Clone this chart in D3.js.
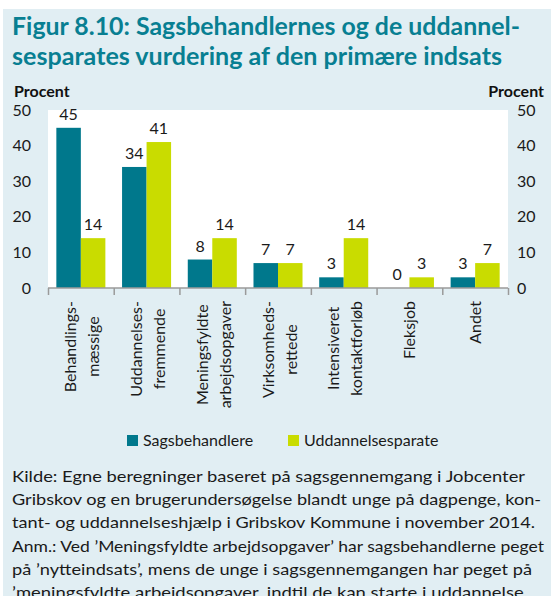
<!DOCTYPE html>
<html>
<head>
<meta charset="utf-8">
<script src="https://cdn.jsdelivr.net/npm/d3@7"></script>
<style>
  body { margin: 0; background: #ffffff; }
  text { font-family: Lato, "Open Sans", sans-serif; }
</style>
</head>
<body>
<svg id="chart"></svg>
<script>
// data
var categories = [
  ["Behandlings-", "mæssige"],
  ["Uddannelses-", "fremmende"],
  ["Meningsfyldte", "arbejdsopgaver"],
  ["Virksomheds-", "rettede"],
  ["Intensiveret", "kontaktforløb"],
  ["Fleksjob"],
  ["Andet"]
];
var sagsbehandlere = [45, 34, 8, 7, 3, 0, 3];
var uddannelsesparate = [14, 41, 14, 7, 14, 3, 7];
var seriesNames = ["Sagsbehandlere", "Uddannelsesparate"];
var yTicks = [0, 10, 20, 30, 40, 50];

var titleLines = [
  "Figur 8.10: Sagsbehandlernes og de uddannel-",
  "sesparates vurdering af den primære indsats"
];
var noteLines = [
  "Kilde: Egne beregninger baseret på sagsgennemgang i Jobcenter",
  "Gribskov og en brugerundersøgelse blandt unge på dagpenge, kon-",
  "tant- og uddannelseshjælp i Gribskov Kommune i november 2014.",
  "Anm.: Ved ’Meningsfyldte arbejdsopgaver’ har sagsbehandlerne peget",
  "på ’nytteindsats’, mens de unge i sagsgennemgangen har peget på",
  "’meningsfyldte arbejdsopgaver, indtil de kan starte i uddannelse."
];

var drawChart = function(w, h)
{
  var colors = ["#00788c", "#c9dc00"];
  var teal = "#087f92";

  var svg = d3.select("#chart")
              .attr("width", w)
              .attr("height", h);

  // light blue panel
  svg.append("rect")
     .attr("x", 3).attr("y", 9)
     .attr("width", w - 3).attr("height", h - 9)
     .attr("fill", "#e1eef3");

  // title
  var titleWidths = [508, 490];
  svg.selectAll("text.title")
     .data(titleLines)
     .enter()
     .append("text")
     .classed("title", true)
     .attr("x", 12)
     .attr("y", function(d, i) { return 35 + i * 30; })
     .attr("textLength", function(d, i) { return titleWidths[i]; })
     .attr("lengthAdjust", "spacingAndGlyphs")
     .style("font-size", "25px")
     .style("font-weight", "bold")
     .attr("fill", teal)
     .text(function(d) { return d; });

  var margins = { top: 110, left: 48, right: 43, bottom: 308 };
  var width = w - margins.left - margins.right;
  var height = h - margins.top - margins.bottom;

  var xScale = d3.scaleBand()
                 .domain(d3.range(categories.length))
                 .range([0, width])
                 .paddingInner(0.254)
                 .paddingOuter(0.127);
  // full category slots for ticks
  var slot = width / categories.length;

  var yScale = d3.scaleLinear()
                 .domain([0, 50])
                 .range([height, 0]);

  var plot = svg.append("g")
                .attr("transform", "translate(" + margins.left + "," + margins.top + ")");

  plot.append("rect")
      .attr("x", 0).attr("y", 0)
      .attr("width", width).attr("height", height)
      .attr("fill", "#ffffff");

  var bw = xScale.bandwidth() / 2;
  var series = [sagsbehandlere, uddannelsesparate];

  series.forEach(function(vals, s)
  {
    var g = plot.append("g");
    g.selectAll("rect")
     .data(vals)
     .enter()
     .append("rect")
     .attr("x", function(d, i) { return i * slot + (slot - 2 * bw) / 2 + s * bw; })
     .attr("y", function(d) { return yScale(d); })
     .attr("width", bw)
     .attr("height", function(d) { return height - yScale(d); })
     .attr("fill", colors[s]);

    g.selectAll("text")
     .data(vals)
     .enter()
     .append("text")
     .attr("x", function(d, i) { return i * slot + (slot - 2 * bw) / 2 + s * bw + bw / 2; })
     .attr("y", function(d) { return yScale(d) - 8; })
     .attr("text-anchor", "middle")
     .style("font-size", "16px")
     .attr("fill", "#1a1a1a")
     .text(function(d) { return d; });
  });

  // x axis line and ticks between categories
  var xAxis = d3.axisBottom(d3.scaleLinear().domain([0, categories.length]).range([0, width]))
                .ticks(categories.length)
                .tickSize(7)
                .tickFormat("");
  var xg = plot.append("g")
               .attr("transform", "translate(0," + height + ")")
               .call(xAxis);
  xg.select(".domain").attr("stroke", "#9a9a9a").attr("stroke-width", 1.5).attr("d", "M0,0H" + width);
  xg.selectAll(".tick line").attr("stroke", "#9a9a9a").attr("stroke-width", 1.5);

  // category labels, rotated
  var labels = plot.selectAll("g.cat")
                   .data(categories)
                   .enter()
                   .append("g")
                   .classed("cat", true)
                   .attr("transform", function(d, i)
                   {
                     return "translate(" + (i * slot + slot / 2 + (d.length > 1 ? 1.5 : 0)) + "," + (height + 13) + ") rotate(-90)";
                   });

  labels.each(function(lines)
  {
    var g = d3.select(this);
    var texts = g.selectAll("text")
                 .data(lines)
                 .enter()
                 .append("text")
                 .attr("dy", function(d, i) { return (i - (lines.length - 1) / 2) * 23 + 5.5; })
                 .attr("text-anchor", "middle")
                 .style("font-size", "16px")
                 .attr("fill", "#1a1a1a")
                 .text(function(d) { return d; });
    var maxLen = d3.max(texts.nodes(), function(n) { return n.getComputedTextLength(); });
    texts.attr("x", -maxLen / 2);
  });

  // y axes, left and right
  var yLeft = d3.axisLeft(yScale).tickValues(yTicks).tickSize(0).tickPadding(17);
  var yRight = d3.axisRight(yScale).tickValues(yTicks).tickSize(0).tickPadding(9);

  var yl = plot.append("g").call(yLeft);
  var yr = plot.append("g").attr("transform", "translate(" + width + ",0)").call(yRight);
  [yl, yr].forEach(function(a)
  {
    a.select(".domain").remove();
    a.selectAll("text")
     .style("font-size", "16px")
     .style("font-family", "Lato, sans-serif")
     .attr("fill", "#1a1a1a");
  });

  // Procent headers
  svg.append("text")
     .attr("x", 14).attr("y", 97)
     .style("font-size", "16px").style("font-weight", "bold")
     .attr("fill", "#111")
     .text("Procent");
  svg.append("text")
     .attr("x", 544).attr("y", 97)
     .attr("text-anchor", "end")
     .style("font-size", "16px").style("font-weight", "bold")
     .attr("fill", "#111")
     .text("Procent");

  // legend
  var legendX = [127, 288];
  var legend = svg.selectAll("g.legend")
                  .data(seriesNames)
                  .enter()
                  .append("g")
                  .classed("legend", true)
                  .attr("transform", function(d, i) { return "translate(" + legendX[i] + ",435)"; });
  legend.append("rect")
        .attr("width", 11).attr("height", 11)
        .attr("fill", function(d, i) { return colors[i]; });
  legend.append("text")
        .attr("x", 16).attr("y", 11)
        .style("font-size", "16px")
        .attr("fill", "#1a1a1a")
        .text(function(d) { return d; });

  // footnote
  var noteEnds = [525, 541, 535, 544, 532, 528];
  svg.selectAll("text.note")
     .data(noteLines)
     .enter()
     .append("text")
     .classed("note", true)
     .attr("x", 12)
     .attr("y", function(d, i) { return 482 + i * 23.2; })
     .attr("textLength", function(d, i) { return noteEnds[i] - 12; })
     .attr("lengthAdjust", "spacingAndGlyphs")
     .style("font-size", "16px")
     .attr("fill", "#1a1a1a")
     .text(function(d) { return d; });
}

drawChart(551, 596);
</script>
</body>
</html>
